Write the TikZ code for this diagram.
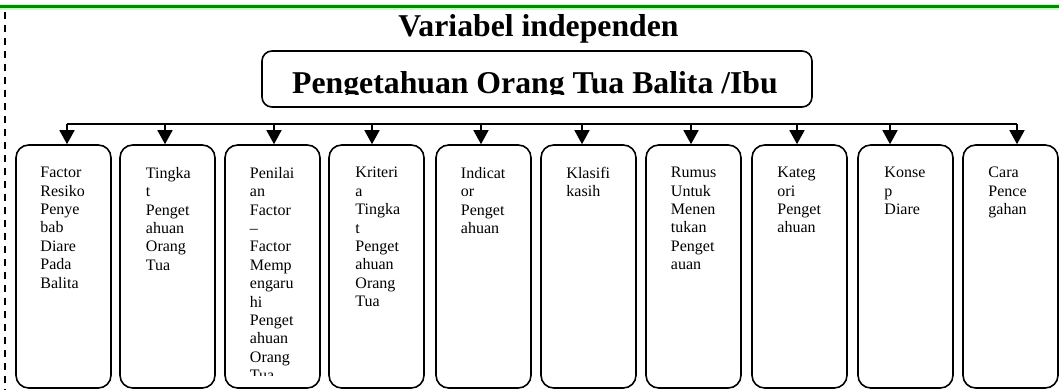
\documentclass[tikz,border=0pt]{standalone}
\usepackage{fontspec}
\setmainfont{Liberation Serif}
\usetikzlibrary{arrows.meta}

\begin{document}
\begin{tikzpicture}[x=0.75pt, y=-0.75pt,
    kotak/.style={rectangle, draw, line width=1.2pt, rounded corners=9.5pt, minimum width=71.25pt, minimum height=182.25pt, inner sep=0pt},
    isi/.style={anchor=north west, align=left, inner sep=0pt, font=\fontsize{12}{13.8}\selectfont, execute at begin node=\strut},
    tajuk/.style={inner sep=0pt, anchor=base, font=\fontsize{23.8}{28}\selectfont\bfseries},
    panah/.style={-{Triangle[width=11.25pt, length=10.5pt]}, line width=1.1pt}]
    \useasboundingbox (0,0) rectangle (1059,390);

    % Page edges
    \draw[green!25, line width=4.5pt] (0,6.5) -- (1059,6.5);
    \draw[green!55!black, line width=2.4pt] (0,6.5) -- (1059,6.5);
    \draw[line width=1.5pt, dash pattern=on 5.25pt off 4.5pt] (5,12) -- (5,390);

    % Heading
    \node[tajuk] (var) at (538.5,36) {Variabel independen};
    \node[rectangle, draw, line width=1.2pt, rounded corners=7.5pt, minimum width=412.5pt, minimum height=42pt] (judul) at (537,79) {};
    \begin{scope}
        \clip (262,51) rectangle (812,94.5);
        \node[tajuk] (ibu) at (535,93.5) {Pengetahuan Orang Tua Balita /Ibu};
    \end{scope}

    % Sub-variables
    \node[kotak] (k1) at (63.5,266.5) {};
    \node[kotak] (k2) at (167.5,266.5) {};
    \node[kotak] (k3) at (272.5,266.5) {};
    \node[kotak] (k4) at (376.5,266.5) {};
    \node[kotak] (k5) at (483.5,266.5) {};
    \node[kotak] (k6) at (588.5,266.5) {};
    \node[kotak] (k7) at (693.5,266.5) {};
    \node[kotak] (k8) at (799.5,266.5) {};
    \node[kotak] (k9) at (905.5,266.5) {};
    \node[kotak] (k10) at (1010.5,266.5) {};

    % Texts in the boxes
    \begin{scope}
        \clip (10,145) rectangle (1059,375);
        \node[isi] (t1) at ([shift={(25,22.8)}]k1.north west) {Factor\\Resiko\\Penye\\bab\\Diare\\Pada\\Balita};
        \node[isi] (t2) at ([shift={(26.5,22.8)}]k2.north west) {Tingka\\t\\Penget\\ahuan\\Orang\\Tua};
        \node[isi] (t3) at ([shift={(25.5,22.8)}]k3.north west) {Penilai\\an\\Factor\\\textendash\\Factor\\Memp\\engaru\\hi\\Penget\\ahuan\\Orang\\Tua};
        \node[isi] (t4) at ([shift={(27,22.8)}]k4.north west) {Kriteri\\a\\Tingka\\t\\Penget\\ahuan\\Orang\\Tua};
        \node[isi] (t5) at ([shift={(25.5,22.8)}]k5.north west) {Indicat\\or\\Penget\\ahuan};
        \node[isi] (t6) at ([shift={(26,22.8)}]k6.north west) {Klasifi\\kasih};
        \node[isi] (t7) at ([shift={(25.5,22.8)}]k7.north west) {Rumus\\Untuk\\Menen\\tukan\\Penget\\auan};
        \node[isi] (t8) at ([shift={(26,22.8)}]k8.north west) {Kateg\\ori\\Penget\\ahuan};
        \node[isi] (t9) at ([shift={(27,22.8)}]k9.north west) {Konse\\p\\Diare};
        \node[isi] (t10) at ([shift={(26,22.8)}]k10.north west) {Cara\\Pence\\gahan};
    \end{scope}

    % Arrows
    \coordinate (a1) at (67,124);
    \coordinate (a2) at (165,124);
    \coordinate (a3) at (274,124);
    \coordinate (a4) at (372,124);
    \coordinate (a5) at (481,124);
    \coordinate (a6) at (582,124);
    \coordinate (a7) at (691,124);
    \coordinate (a8) at (797,124);
    \coordinate (a9) at (890,124);
    \coordinate (a10) at (1017,124);
    \draw[line width=1.1pt] (a1) -- (a10);
    \draw[panah] (a1) -- (a1 |- k1.north);
    \draw[panah] (a2) -- (a2 |- k2.north);
    \draw[panah] (a3) -- (a3 |- k3.north);
    \draw[panah] (a4) -- (a4 |- k4.north);
    \draw[panah] (a5) -- (a5 |- k5.north);
    \draw[panah] (a6) -- (a6 |- k6.north);
    \draw[panah] (a7) -- (a7 |- k7.north);
    \draw[panah] (a8) -- (a8 |- k8.north);
    \draw[panah] (a9) -- (a9 |- k9.north);
    \draw[panah] (a10) -- (a10 |- k10.north);
\end{tikzpicture}
\end{document}
